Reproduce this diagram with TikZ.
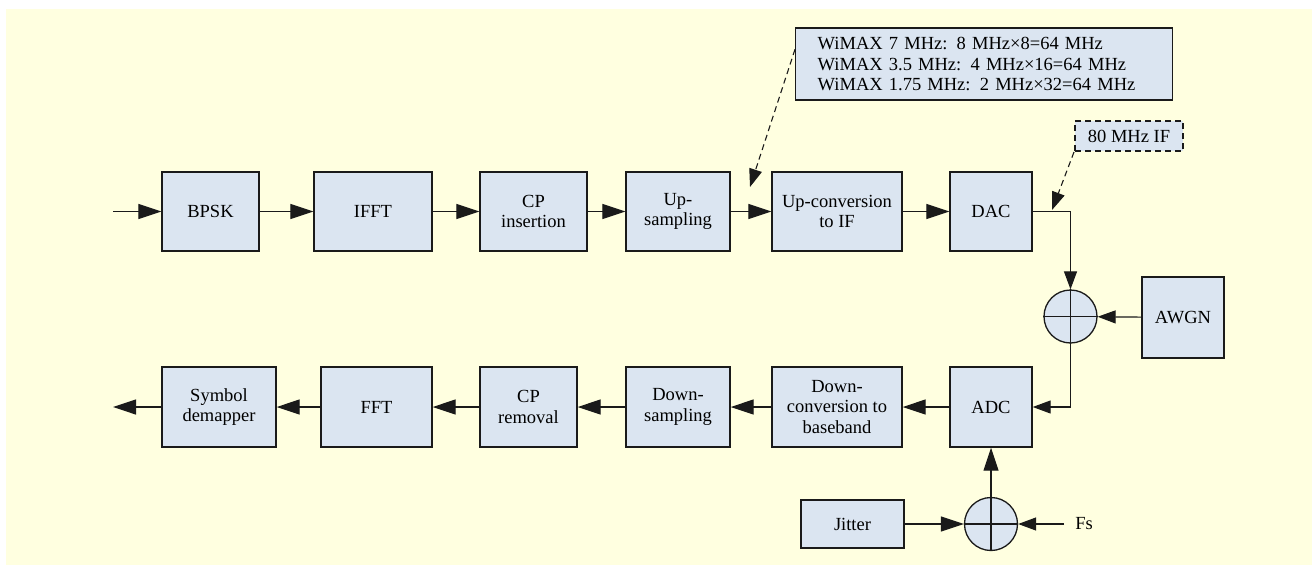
\documentclass[tikz,border=0pt]{standalone}
\usepackage{fontspec}
\setmainfont{Liberation Serif}
\usetikzlibrary{arrows.meta,calc}
\definecolor{paper}{HTML}{FFFFE0}
\definecolor{boxfill}{HTML}{DBE5F1}
\definecolor{ink}{HTML}{1A1A1A}
\begin{document}
\begin{tikzpicture}[x=1pt,y=-1pt,
  blk/.style={draw=ink,line width=1.4pt,fill=boxfill,rectangle,inner sep=2pt,
    align=center,font=\fontsize{18.5}{20.5}\selectfont},
  sumnode/.style={draw=ink,line width=1.3pt,fill=boxfill,circle,
    minimum size=53pt,inner sep=0pt},
  flow/.style={draw=ink,line width=1.2pt,-{Triangle[length=23pt,width=15pt]}},
  flowsm/.style={draw=ink,line width=1.2pt,-{Triangle[length=18pt,width=13pt]}},
  note/.style={draw=ink,line width=1.1pt,dash pattern=on 6pt off 4pt,
    -{Triangle[length=18pt,width=13pt]}},
  lbl/.style={font=\fontsize{18.5}{20.5}\selectfont,inner sep=0pt}
]
\useasboundingbox (0,0) rectangle (1312,565);
\fill[paper] (6,9) rectangle (1312,565);

% transmitter chain
\node[blk,minimum width=97pt,minimum height=79pt]  (bpsk)   at (210.5,211.5) {BPSK};
\node[blk,minimum width=118pt,minimum height=79pt] (ifft)   at (373,211.5)   {IFFT};
\node[blk,minimum width=107pt,minimum height=79pt] (cpins)  at (533.5,211.5) {CP\\insertion};
\node[blk,minimum width=104pt,minimum height=79pt] (upsamp) at (678,211.5)   {Up-\\sampling};
\node[blk,minimum width=130pt,minimum height=79pt] (upconv) at (837,211.5)   {Up-conversion\\to IF};
\node[blk,minimum width=82pt,minimum height=79pt]  (dac)    at (991,211.5)   {DAC};

% receiver chain
\node[blk,minimum width=114pt,minimum height=80pt] (demap)    at (219,407)   {Symbol\\demapper};
\node[blk,minimum width=111pt,minimum height=80pt] (fft)      at (376.5,407) {FFT};
\node[blk,minimum width=97pt,minimum height=80pt]  (cprem)    at (528.5,407) {CP\\removal};
\node[blk,minimum width=104pt,minimum height=80pt] (downsamp) at (678,407)   {Down-\\sampling};
\node[blk,minimum width=130pt,minimum height=80pt] (downconv) at (837,407)   {Down-\\conversion to\\baseband};
\node[blk,minimum width=82pt,minimum height=80pt]  (adc)      at (991,407)   {ADC};

% channel and sampling clock
\node[blk,minimum width=82pt,minimum height=81pt]  (awgn)   at (1183,317.5) {AWGN};
\node[blk,minimum width=103pt,minimum height=48pt] (jitter) at (852.5,524)  {Jitter};
\node[sumnode] (sum1) at (1070.5,316.5) {};
\node[sumnode] (sum2) at (991,524) {};
\draw[ink,line width=1.2pt] (sum1.north) -- (sum1.south) (sum1.west) -- (sum1.east);
\draw[ink,line width=1.2pt] (sum2.north) -- (sum2.south) (sum2.west) -- (sum2.east);
\node[lbl,inner xsep=11pt] (fs) at (1084,524) {Fs};

% annotations
\node[blk,anchor=west,align=left,text width=333pt,inner xsep=22pt,
  minimum height=72pt] (wimax) at (795,64)
  {WiMAX 7 MHz: 8 MHz×8=64 MHz\\WiMAX 3.5 MHz: 4 MHz×16=64 MHz\\WiMAX 1.75 MHz: 2 MHz×32=64 MHz};
\node[blk,line width=2pt,dash pattern=on 6pt off 4pt,minimum width=108pt,
  minimum height=30pt] (if80) at (1129,136) {80 MHz IF};

\coordinate (src)    at (113,211.5);
\coordinate (sink)   at (113,407);
\coordinate (upin)   at (750,187);
\coordinate (dacout) at (1052,210);

% signal flow
\draw[flow] (src) -- (bpsk);
\draw[flow] (bpsk) -- (ifft);
\draw[flow] (ifft) -- (cpins);
\draw[flow] (cpins) -- (upsamp);
\draw[flow] (upsamp) -- (upconv);
\draw[flow] (upconv) -- (dac);
\draw[flowsm] (dac.east) -| (sum1.north);
\draw[flowsm] (awgn) -- (sum1);
\draw[flowsm] (sum1.south) |- (adc.east);
\draw[flow] (adc) -- (downconv);
\draw[flow] (downconv) -- (downsamp);
\draw[flow] (downsamp) -- (cprem);
\draw[flow] (cprem) -- (fft);
\draw[flow] (fft) -- (demap);
\draw[flow] (demap) -- (sink);
\draw[flow] (jitter) -- (sum2);
\draw[flowsm] (fs) -- (sum2);
\draw[flow] (sum2) -- (adc);

\draw[note] ($(wimax.north west)!0.3!(wimax.south west)$) -- (upin);
\draw[note] (if80.south west) -- (dacout);
\end{tikzpicture}
\end{document}
